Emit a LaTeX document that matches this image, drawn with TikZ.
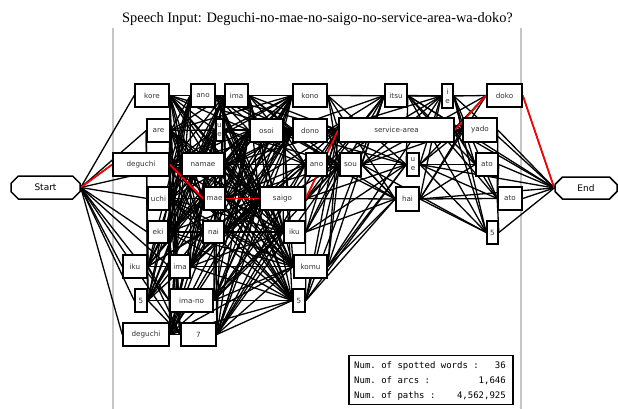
\documentclass[tikz,border=0pt]{standalone}
\usepackage{fontspec}
\setmainfont{Liberation Serif}
\setsansfont{DejaVu Sans}
\setmonofont{DejaVu Sans Mono}
\usetikzlibrary{shapes.misc,backgrounds}
\def\wordlist{%
kore/135/84/169/107/kore,
anoA/191/84/215/107/ano,
imaA/225/84/248/107/ima,
kono/293/84/327/107/kono,
itsu/385/84/407/107/itsu,
ieA/442/84/453/108/{i\\e},
doko/487/84/522/107/doko,
are/147/119/170/142/are,
ueA/216/119/223/141/{u\\e},
osoi/250/119/283/142/osoi,
dono/293/119/327/142/dono,
sa/339/118/454/142/service-area,
yado/463/118/497/142/yado,
deguchiA/113/153/169/176/deguchi,
namae/182/153/224/176/namae,
anoB/306/153/327/176/ano,
sou/340/153/361/176/sou,
ueB/407/153/419/176/{u\\e},
atoA/476/153/498/176/ato,
uchi/148/187/169/210/uchi,
mae/204/187/225/210/mae,
saigo/260/187/305/210/saigo,
hai/396/187/419/211/hai,
atoB/498/187/522/210/ato,
eki/148/221/168/243/eki,
nai/203/221/224/243/nai,
ikuB/284/221/305/243/iku,
fiveC/487/221/498/244/5,
ikuA/123/255/147/278/iku,
imaB/170/255/190/278/ima,
komu/294/255/327/278/komu,
fiveA/135/289/147/312/5,
imano/170/289/213/312/ima-no,
fiveB/293/289/305/312/5,
deguchiB/123/323/169/346/deguchi,
seven/181/323/216/346/7}
\begin{document}
\begin{tikzpicture}[x=1pt,y=-1pt,
  wbox/.style={draw, line width=1.6pt, fill=white, inner sep=0pt,
    font=\sffamily\fontsize{7.2}{9}\selectfont, text=black!80, align=center},
  term/.style={draw, line width=1.5pt, fill=white, chamfered rectangle,
    chamfered rectangle xsep=4pt, chamfered rectangle ysep=4pt, inner sep=0pt,
    font=\sffamily\fontsize{9}{10}\selectfont},
  arc/.style={line width=1.3pt, black},
  hot/.style={line width=1.7pt, red},
  stat/.style={font=\ttfamily\fontsize{9}{10}\selectfont, inner sep=0pt},
  guide/.style={gray!45, line width=1.5pt}]
\useasboundingbox (0,0) rectangle (618,409);
% title
\node[font=\fontsize{14.4}{16}\selectfont, anchor=base, inner sep=0pt] (title) at (317.5,23)
  {Speech Input: Deguchi-no-mae-no-saigo-no-service-area-wa-doko?};
% word nodes
\foreach \nn/\xl/\yt/\xr/\yb/\tx in \wordlist {
  \node[wbox, minimum width={(\xr-\xl)*1pt}, minimum height={(\yb-\yt)*1pt}]
    (\nn) at ({(\xl+\xr)/2},{(\yt+\yb)/2}) {\tx};
}
\node[term, minimum width=69pt, minimum height=23pt] (start) at (45.5,187.5) {Start};
\node[term, minimum width=62pt, minimum height=22pt] (end) at (586,188) {End};
% statistics
\node[draw, line width=1.5pt, fill=white, minimum width=164pt, minimum height=49pt] (stats) at (431,380) {};
\node[stat, anchor=base west] (l1) at (354,368) {Num. of spotted words :};
\node[stat, anchor=base west] (l2) at (354,383) {Num. of arcs :};
\node[stat, anchor=base west] (l3) at (354,398) {Num. of paths :};
\node[stat, anchor=base east] (v1) at (506,368) {36};
\node[stat, anchor=base east] (v2) at (506,383) {1,646};
\node[stat, anchor=base east] (v3) at (506,398) {4,562,925};
% connectors
\begin{scope}[on background layer]
  \draw[guide] (113,28) -- (113,409);
  \draw[guide] (521,28) -- (521,409);
  \foreach \ua/\ual/\uat/\uar/\uab/\uatx in \wordlist {
    \foreach \vb/\vbl/\vbt/\vbr/\vbb/\vbtx in \wordlist {
      \pgfmathtruncatemacro\ok{and(\vbl>\uar-2, \vbl-\uar<131)}
      \ifnum\ok=1 \draw[arc] (\ua.east) -- (\vb.west); \fi
    }
  }
  \foreach \tg in {kore,are,deguchiA,namae,uchi,eki,ikuA,imaB,fiveA,imano,deguchiB,seven}
    \draw[arc] (start.east) -- (\tg.west);
  \foreach \sr in {itsu,ieA,doko,sa,yado,ueB,atoA,hai,atoB,fiveC}
    \draw[arc] (\sr.east) -- (end.west);
  \draw[hot] (start.east) -- (deguchiA.west);
  \draw[hot] (deguchiA.east) -- (mae.west);
  \draw[hot] (mae.east) -- (saigo.west);
  \draw[hot] (saigo.east) -- (sa.west);
  \draw[hot] (sa.east) -- (doko.west);
  \draw[hot] (doko.east) -- (end.west);
\end{scope}
\end{tikzpicture}
\end{document}
